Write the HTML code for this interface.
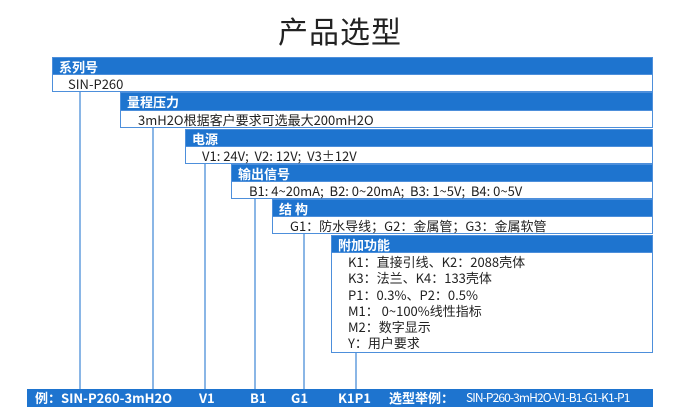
<!DOCTYPE html>
<html><head><meta charset="utf-8"><style>
*{margin:0;padding:0;box-sizing:border-box}
body{width:680px;height:413px;background:#fff;position:relative;overflow:hidden;font-family:"Liberation Sans","Noto Sans CJK SC",sans-serif}
.t{position:absolute;left:0;width:680px;top:8px;text-align:center;font-size:30px;color:#222;font-family:"Noto Sans CJK SC",sans-serif;letter-spacing:1px}
.h{position:absolute;background:#1e74cf;color:#fff;font-weight:bold;font-size:13px;line-height:18px;padding-left:6px;right:27px;border:1px solid #4d8fdb;font-family:"Noto Sans CJK SC",sans-serif}
.w{position:absolute;background:#fff;border:1px solid #4d8fdb;border-top:none;right:27px;font-size:13px;color:#222;font-family:"Noto Sans CJK SC",sans-serif;line-height:17px}
.l{position:absolute;width:2px;background:#8ab6e6}
.bar{position:absolute;left:27px;right:27px;top:389px;height:18px;background:#1e74cf;color:#fff;font-size:13px;line-height:18px;font-family:"Noto Sans CJK SC",sans-serif}
.bar span{position:absolute;top:0;font-weight:bold;white-space:nowrap}
</style></head><body>
<div class="t">产品选型</div>

<div class="l" style="left:79px;top:91px;height:298px"></div>
<div class="l" style="left:152px;top:128px;height:261px"></div>
<div class="l" style="left:204px;top:163px;height:226px"></div>
<div class="l" style="left:254px;top:198px;height:191px"></div>
<div class="l" style="left:303px;top:233px;height:156px"></div>
<div class="l" style="left:355px;top:352px;height:37px"></div>

<div class="h" style="left:52px;top:57px;height:18px">系列号</div>
<div class="w" style="left:52px;top:75px;height:17px;padding-left:15px">SIN-P260</div>

<div class="h" style="left:120px;top:92px;height:19px">量程压力</div>
<div class="w" style="left:120px;top:111px;height:17px;padding-left:17px">3mH2O根据客户要求可选最大200mH2O</div>

<div class="h" style="left:185px;top:129px;height:18px">电源</div>
<div class="w" style="left:185px;top:147px;height:17px;padding-left:16px">V1: 24V; &nbsp;V2: 12V; &nbsp;V3±12V</div>

<div class="h" style="left:231px;top:164px;height:18px">输出信号</div>
<div class="w" style="left:231px;top:182px;height:17px;padding-left:17px">B1: 4~20mA; &nbsp;B2: 0~20mA; &nbsp;B3: 1~5V; &nbsp;B4: 0~5V</div>

<div class="h" style="left:272px;top:199px;height:18px">结 构</div>
<div class="w" style="left:272px;top:217px;height:17px;padding-left:17px">G1：防水导线；G2：金属管；G3：金属软管</div>

<div class="h" style="left:331px;top:235px;height:18px">附加功能</div>
<div class="w" style="left:331px;top:253px;height:100px;padding-left:16px;padding-top:1px;line-height:16.3px">K1：直接引线、K2：2088壳体<br>K3：法兰、K4：133壳体<br>P1：0.3%、P2：0.5%<br>M1： 0~100%线性指标<br>M2：数字显示<br>Y：用户要求</div>

<div class="bar">
<span style="left:8px">例：SIN-P260-3mH2O</span>
<span style="left:172px">V1</span>
<span style="left:223px">B1</span>
<span style="left:264px">G1</span>
<span style="left:311px">K1P1</span>
<span style="left:362px">选型举例：</span>
<span style="left:439px;font-weight:normal;font-size:12px;letter-spacing:-0.9px">SIN-P260-3mH2O-V1-B1-G1-K1-P1</span>
</div>
</body></html>
